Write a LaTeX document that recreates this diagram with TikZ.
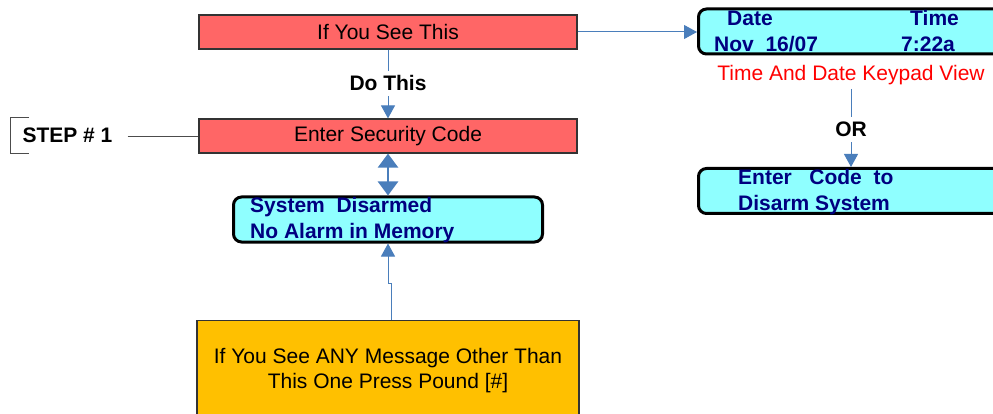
\documentclass[tikz,border=0pt]{standalone}
\usepackage{fontspec}
\setmainfont{Liberation Sans}
\usetikzlibrary{arrows.meta, positioning, calc}
\definecolor{boxred}{HTML}{FF6666}
\definecolor{lcdcyan}{HTML}{8FFFFF}
\definecolor{padorange}{HTML}{FFC000}
\definecolor{linkblue}{HTML}{4A7EBB}
\definecolor{lcdnavy}{HTML}{000080}
\tikzstyle{link} = [draw=linkblue, line width=1pt, -{Triangle[length=13pt,width=14pt]}]
\tikzstyle{thread} = [draw=linkblue, line width=1pt]

\begin{document}
\begin{tikzpicture}[x=1pt,y=-1pt,font=\fontsize{21}{25}\selectfont,
redbox/.style={draw=black!80,line width=1.2pt,fill=boxred,minimum width=378pt,minimum height=34pt,inner sep=0pt},
lcd/.style={draw=black,line width=3pt,rounded corners=8pt,fill=lcdcyan,inner sep=0pt,minimum height=45pt},
lcdtext/.style={anchor=base west,font=\fontsize{21}{25}\selectfont\bfseries,text=lcdnavy,inner sep=0pt},
cue/.style={anchor=base,font=\fontsize{21}{25}\selectfont\bfseries,inner xsep=2pt,inner ysep=5pt}]
 \useasboundingbox (0,0) rectangle (993,414);
 \clip (0,0) rectangle (993,414);
 % left column
 \node[redbox] (see) at (388,32) {If You See This};
 \node[redbox] (code) at (388,136) {Enter Security Code};
 \node[lcd,minimum width=309pt] (sys) at (388,219.5) {};
 \node[lcdtext] (sys1) at (250,213) {System\ \ Disarmed};
 \node[lcdtext] (sys2) at (250,239) {No Alarm in Memory};
 \node[draw=black!80,line width=1.2pt,fill=padorange,minimum width=382pt,minimum height=99pt,
 align=center,anchor=north] (pound) at (388,320) {If You See ANY Message Other Than\\This One Press Pound [\#]};
 \node[cue] (do) at (388,91) {Do This};
 \draw[thread] (see) -- (do);
 \draw[link] (do) -- (code);
 \draw[draw=linkblue,line width=2.5pt,{Triangle[length=14pt,width=20pt]}-{Triangle[length=14pt,width=20pt]}]
 (code) -- (sys);
 \coordinate (jog) at (388,283);
 \draw[link] ([xshift=3pt]pound.north) |- (jog) -- (sys.south);
 % step marker
 \node[cue,inner xsep=15pt] (step) at (67.5,143) {STEP \# 1};
 \draw[black!70] (step) -- (step -| code.west);
 \draw[black!70] (29,117) -- (10,117) -- (10,153) -- (29,153);
 % right column
 \node[lcd,minimum width=320pt,anchor=west] (clockbox) at (697,31.5) {};
 \node[lcdtext] (date) at (727,26) {Date};
 \node[lcdtext] (time) at (910,26) {Time};
 \node[lcdtext] (day) at (714,52) {Nov\ \ 16/07};
 \node[lcdtext] (hour) at (901,52) {7:22a};
 \node[anchor=base,text=red] (view) at (851,81) {Time And Date Keypad View};
 \node[cue] (or) at (851,137) {OR};
 \node[lcd,minimum width=320pt,anchor=west] (disbox) at (697,191) {};
 \node[lcdtext] (dis1) at (738,185) {Enter\ \ \ Code\ \ to};
 \node[lcdtext] (dis2) at (738,211) {Disarm System};
 \draw[link] (see) -- (see -| clockbox.west);
 \draw[thread] (view) -- (or);
 \draw[link] (or) -- (or |- disbox.north);
\end{tikzpicture}
\end{document}
